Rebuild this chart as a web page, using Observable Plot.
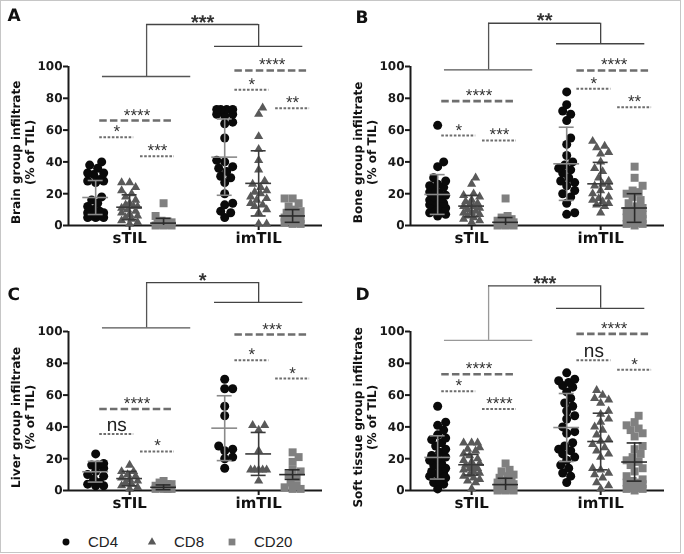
<!DOCTYPE html>
<html><head><meta charset="utf-8">
<script src="https://cdn.jsdelivr.net/npm/d3@7"></script>
<script src="https://cdn.jsdelivr.net/npm/@observablehq/plot@0.6"></script>
<style>
body{margin:0;background:#fff}
#fig{position:relative;width:684px;height:554px;overflow:hidden;background:#fff}
#frame{position:absolute;left:0;top:0;width:681px;height:553px;box-sizing:border-box;border:1.5px solid #c6c6c6}
.panel{position:absolute;will-change:transform}
.panel svg{overflow:visible}
.panel text{text-rendering:geometricPrecision}
</style></head>
<body><div id="fig"><div id="frame"></div></div>
<script>
// ---------- categories / series ----------
const categories = ["sTIL", "imTIL"];
const series = ["CD4", "CD8", "CD20"];
const panelLetters = ["A", "B", "C", "D"];
const yLabels = [
  "Brain group infiltrate\n(% of TIL)",
  "Bone group infiltrate\n(% of TIL)",
  "Liver group infiltrate\n(% of TIL)",
  "Soft tissue group infiltrate\n(% of TIL)"
];
const yTicks = [0, 20, 40, 60, 80, 100];

// ---------- A: Brain ----------
const brain_sTIL_CD4 = [40, 38, 36, 33, 33, 32, 29, 28, 28, 27, 18, 16, 14, 12, 10, 9, 8, 8, 7, 6, 6, 5, 5, 5];
const brain_sTIL_CD8 = [27, 27, 24, 22, 20, 18, 16, 14, 13, 12, 12, 11, 10, 9, 8, 7, 6, 5, 4, 3, 2, 1];
const brain_sTIL_CD20 = [14, 6, 3, 2.5, 2, 1.5, 1.5, 1, 1, 0.5, 0.5, 0.5, 0, 0, 0];
const brain_imTIL_CD4 = [73, 73, 73, 73, 70, 70, 69, 65, 64, 55, 41, 40, 37, 36, 34, 31, 30, 27, 20, 14, 13, 9, 8, 5];
const brain_imTIL_CD8 = [74, 70, 56, 48, 41, 35, 28, 26, 24, 22, 21, 20, 18, 17, 16, 14, 13, 12, 10, 8, 1, 1];
const brain_imTIL_CD20 = [17, 17, 14, 12, 10, 9, 8, 7, 6, 5, 5, 5, 4, 4, 3, 3, 2, 2, 1, 1];
const brainMean = [17.6, 11.5, 1.5, 43, 26.5, 6];
const brainSD = [10.7, 7.8, 3, 24, 20.5, 4];
const brainSig = [
  ["sTIL", "CD4", "CD20", 66, "****"], ["sTIL", "CD4", "CD8", 55.5, "*"], ["sTIL", "CD8", "CD20", 43.6, "***"],
  ["imTIL", "CD4", "CD20", 97.5, "****"], ["imTIL", "CD4", "CD8", 85.3, "*"], ["imTIL", "CD8", "CD20", 73.8, "**"]
];
const brainBracket = [93.7, 112.6, 126.4, "***"];

// ---------- B: Bone ----------
const bone_sTIL_CD4 = [63, 40, 37, 30, 28, 26, 25, 24, 22, 21, 20, 19, 18, 17, 16, 15, 14, 13, 12, 11, 10, 9, 8, 7, 6];
const bone_sTIL_CD8 = [30, 26, 20, 19, 18, 16, 15, 14, 13, 12, 12, 11, 10, 9, 8, 8, 7, 6, 5, 4, 3, 2];
const bone_sTIL_CD20 = [17, 6, 5, 4, 3.5, 3, 2.5, 2, 2, 1.5, 1.5, 1, 1, 0.5, 0.5, 0.5, 0, 0, 0];
const bone_imTIL_CD4 = [84, 76, 72, 70, 66, 55, 51, 44, 40, 38, 36, 35, 33, 30, 28, 27, 25, 22, 20, 18, 14, 8, 7];
const bone_imTIL_CD8 = [53, 50, 49, 46, 45, 40, 36, 34, 30, 28, 26, 25, 24, 22, 20, 18, 17, 16, 15, 14, 13, 12, 8];
const bone_imTIL_CD20 = [37, 30, 25, 22, 21, 20, 18, 16, 14, 12, 11, 10, 9, 8, 7, 6, 5, 5, 4, 3, 2, 2, 1, 1, 0];
const boneMean = [19.5, 12.2, 2, 38.8, 26.2, 11];
const boneSD = [12.5, 6.7, 3, 23, 13.5, 9];
const boneSig = [
  ["sTIL", "CD4", "CD20", 78.2, "****"], ["sTIL", "CD4", "CD8", 56.6, "*"], ["sTIL", "CD8", "CD20", 53.5, "***"],
  ["imTIL", "CD4", "CD20", 97.5, "****"], ["imTIL", "CD4", "CD8", 86, "*"], ["imTIL", "CD8", "CD20", 74.4, "**"]
];
const boneBracket = [97.9, 114.3, 127.2, "**"];

// ---------- C: Liver ----------
const liver_sTIL_CD4 = [23, 17, 16, 16, 14, 12, 10, 9, 7, 5, 4, 3, 3];
const liver_sTIL_CD8 = [16, 12, 12, 10, 9, 8, 7, 6, 5, 4, 3, 2, 1];
const liver_sTIL_CD20 = [6, 5, 4, 4, 3, 3, 2, 2, 2, 1, 1, 1, 1];
const liver_imTIL_CD4 = [70, 64, 64, 53, 47, 28, 26, 25, 21, 20, 14];
const liver_imTIL_CD8 = [41, 41, 38, 25, 13, 13, 13, 13, 13, 6];
const liver_imTIL_CD20 = [24, 21, 18, 13, 12, 10, 8, 5, 3, 2, 1, 1];
const liverMean = [11.8, 7.5, 2, 39.2, 23, 10];
const liverSD = [6.5, 4.5, 1.5, 20.4, 13.5, 3];
const liverSig = [
  ["sTIL", "CD4", "CD20", 51.25, "****"], ["sTIL", "CD4", "CD8", 35.6, "ns"], ["sTIL", "CD8", "CD20", 24.6, "*"],
  ["imTIL", "CD4", "CD20", 98.1, "***"], ["imTIL", "CD4", "CD8", 81.9, "*"], ["imTIL", "CD8", "CD20", 70.4, "*"]
];
const liverBracket = [102.3, 118.3, 130.8, "*"];

// ---------- D: Soft tissue ----------
const soft_sTIL_CD4 = [53, 43, 41, 38, 35, 33, 32, 30, 28, 26, 24, 22, 21, 20, 19, 17, 16, 14, 13, 12, 11, 10, 9, 8, 6, 5, 4, 1];
const soft_sTIL_CD8 = [30, 30, 30, 27, 26, 25, 23, 22, 20, 19, 18, 17, 16, 15, 14, 14, 13, 12, 11, 10, 9, 8, 7, 6, 5, 1];
const soft_sTIL_CD20 = [17, 13, 12, 10, 9, 8, 7, 6, 5, 4, 3.5, 3, 2.5, 2, 1.5, 1, 1, 0.5, 0.5, 0, 0, 0];
const soft_imTIL_CD4 = [74, 70, 69, 68, 66, 65, 62, 58, 55, 53, 50, 47, 45, 40, 37, 36, 30, 28, 26, 25, 23, 21, 19, 16, 14, 11, 9, 5];
const soft_imTIL_CD8 = [63, 60, 58, 57, 55, 50, 48, 45, 43, 40, 38, 35, 32, 31, 29, 27, 25, 23, 21, 14, 13, 11, 10, 8, 5, 3, 1];
const soft_imTIL_CD20 = [47, 43, 41, 39, 38, 36, 34, 28, 26, 23, 21, 19, 18, 16, 14, 12, 9, 7, 6, 5, 5, 4, 3, 2, 2, 1, 1, 0];
const softMean = [20.8, 16.2, 3.7, 39.6, 30.8, 17.9];
const softSD = [13.6, 6.5, 4, 21.4, 17.8, 12];
const softSig = [
  ["sTIL", "CD4", "CD20", 73.1, "****"], ["sTIL", "CD4", "CD8", 62.5, "*"], ["sTIL", "CD8", "CD20", 51.25, "****"],
  ["imTIL", "CD4", "CD20", 98.5, "****"], ["imTIL", "CD4", "CD8", 81.9, "ns"], ["imTIL", "CD8", "CD20", 76, "*"]
];
const softBracket = [94.4, 114.6, 128.75, "***"];

// ---------- styles ----------
const pointColor = ["#0a0a0a", "#595959", "#808080"];
const pointSymbol = ["circle", "triangle", "square"];
const pointR = [4.5, 3.4, 4.5];
const barColor = ["#8a8a8a", "#3a3a3a", "#2a2a2a"];
const starFont = "Liberation Sans, Arial, sans-serif";

const panelDefs = [
  {values: [brain_sTIL_CD4, brain_sTIL_CD8, brain_sTIL_CD20, brain_imTIL_CD4, brain_imTIL_CD8, brain_imTIL_CD20], mean: brainMean, sd: brainSD, sig: brainSig, bracket: brainBracket, left: 0, top: 0, ldx: -61, ldy: -58, leftColor: "#555"},
  {values: [bone_sTIL_CD4, bone_sTIL_CD8, bone_sTIL_CD20, bone_imTIL_CD4, bone_imTIL_CD8, bone_imTIL_CD20], mean: boneMean, sd: boneSD, sig: boneSig, bracket: boneBracket, left: 342, top: 0, ldx: -55, ldy: -56, leftColor: "#555"},
  {values: [liver_sTIL_CD4, liver_sTIL_CD8, liver_sTIL_CD20, liver_imTIL_CD4, liver_imTIL_CD8, liver_imTIL_CD20], mean: liverMean, sd: liverSD, sig: liverSig, bracket: liverBracket, left: 0, top: 265, ldx: -61, ldy: -44, leftColor: "#555"},
  {values: [soft_sTIL_CD4, soft_sTIL_CD8, soft_sTIL_CD20, soft_imTIL_CD4, soft_imTIL_CD8, soft_imTIL_CD20], mean: softMean, sd: softSD, sig: softSig, bracket: softBracket, left: 342, top: 265, ldx: -55, ldy: -44, leftColor: "#999"}
];

const W = 342, H = 260, ML = 68, MR = 20, MT = 66, MB = 35;
const X0 = -0.8, X1 = 6.68;
const catOffset = {sTIL: 0, imTIL: 3.8};
const pos = (c, s) => catOffset[c] + series.indexOf(s);
const unit = (W - ML - MR) / (X1 - X0);
const ky = (H - MT - MB) / 100;

// compact scatter-dot spread: offsets capped, overlap allowed when crowded
function swarm(vals, center, d, cap) {
  const placed = [], out = [];
  const step = 2;
  const sorted = vals.slice().sort((a, b) => a - b);
  const cands = [0];
  for (let k = step; k <= cap; k += step) cands.push(k, -k);
  for (const v of sorted) {
    const py = v * ky;
    let best = 0, bestScore = -1;
    for (const c of cands) {
      const m = placed.length ? Math.min(...placed.map(q => Math.hypot(q.px - c, q.py - py))) : Infinity;
      if (m >= d) { best = c; bestScore = Infinity; break; }
      if (m > bestScore) { bestScore = m; best = c; }
    }
    placed.push({px: best, py});
    out.push({v, x: center + best / unit});
  }
  return out;
}

panelDefs.forEach((p, pi) => {
  const marks = [];
  // axes lines
  marks.push(Plot.ruleY([0], {x1: X0, x2: X1, stroke: "#1a1a1a", strokeWidth: 2}));
  marks.push(Plot.ruleX([X0], {y1: 0, y2: 100, stroke: "#1a1a1a", strokeWidth: 2}));
  marks.push(Plot.axisY({ticks: yTicks, tickSize: 5, tickPadding: 1, label: null, color: "#1a1a1a", strokeWidth: 2}));
  marks.push(Plot.ruleX(categories, {x: c => pos(c, "CD8"), y1: 0, y2: -5 / ky, stroke: "#1a1a1a", strokeWidth: 2}));
  marks.push(Plot.text(categories, {x: c => pos(c, "CD8"), y: 0, dy: 7, text: d => d, lineAnchor: "top", fontSize: 15, fontWeight: "bold", fill: "#111"}));
  // y label
  marks.push(Plot.text([yLabels[pi]], {x: X0, y: 46, dx: -46, text: d => d, rotate: -90, lineAnchor: "middle", textAnchor: "middle", fontSize: 12, fontWeight: "bold", lineHeight: 1.2, fill: "#111"}));
  // panel letter
  marks.push(Plot.text([panelLetters[pi]], {frameAnchor: "top-left", dx: p.ldx, dy: p.ldy, text: d => d, lineAnchor: "top", textAnchor: "start", fontSize: 17, fontWeight: "bold", fill: "#111"}));

  // points
  series.forEach((s, si) => {
    const pts = [];
    categories.forEach((c, ci) => {
      swarm(p.values[ci * 3 + si], pos(c, s), si === 1 ? 7 : 7.5, 8).forEach(d => pts.push(d));
    });
    marks.push(Plot.dot(pts, {x: "x", y: "v", r: pointR[si], symbol: pointSymbol[si], fill: pointColor[si], stroke: "none"}));
  });
  // mean ± SD
  series.forEach((s, si) => {
    const rows = categories.map((c, ci) => ({x: pos(c, s), mean: p.mean[ci * 3 + si], sd: p.sd[ci * 3 + si]}));
    const st = {stroke: barColor[si], strokeWidth: 1.6};
    marks.push(Plot.ruleY(rows, {y: "mean", x1: d => d.x - 0.38, x2: d => d.x + 0.38, ...st}));
    marks.push(Plot.ruleX(rows, {x: "x", y1: d => Math.max(0, d.mean - d.sd), y2: d => d.mean + d.sd, ...st}));
    marks.push(Plot.ruleY(rows, {y: d => d.mean + d.sd, x1: d => d.x - 0.22, x2: d => d.x + 0.22, ...st}));
    marks.push(Plot.ruleY(rows.filter(d => d.mean - d.sd > 0), {y: d => d.mean - d.sd, x1: d => d.x - 0.22, x2: d => d.x + 0.22, ...st}));
  });

  // significance lines
  const sigRows = p.sig.map(([c, a, b, level, label]) => {
    const gap = series.indexOf(b) - series.indexOf(a);
    const start = pos(c, a) + (c === "sTIL" ? 0.12 : 0.3) + (a === "CD8" ? 0.2 : 0);
    const len = gap === 2 ? 2.2 : 1.0;
    return {level, label, x1: start, x2: start + len, long: gap === 2};
  });
  marks.push(Plot.ruleY(sigRows.filter(d => d.long), {y: "level", x1: "x1", x2: "x2", stroke: "#6e6e6e", strokeWidth: 2.6, strokeDasharray: "7.5,3.2"}));
  marks.push(Plot.ruleY(sigRows.filter(d => !d.long), {y: "level", x1: "x1", x2: "x2", stroke: "#6e6e6e", strokeWidth: 2, strokeDasharray: "2.6,1.6"}));
  marks.push(Plot.text(sigRows.filter(d => d.label !== "ns"), {x: d => (d.x1 + d.x2) / 2, y: "level", text: "label", lineAnchor: "bottom", dy: 0, fontSize: 17, fontWeight: "normal", fontFamily: starFont, fill: "#333"}));
  marks.push(Plot.text(sigRows.filter(d => d.label === "ns"), {x: d => (d.x1 + d.x2) / 2, y: "level", text: "label", lineAnchor: "bottom", dy: -3, fontSize: 19, fontWeight: "normal", fontFamily: starFont, fill: "#222"}));

  // top bracket
  const [low, high, top, blabel] = p.bracket;
  const cL = pos("sTIL", "CD8") + 0.5, cR = pos("imTIL", "CD8"), hw = 1.3;
  marks.push(Plot.ruleY([{x1: cL - hw, x2: cL + hw, y: low}], {x1: "x1", x2: "x2", y: "y", stroke: p.leftColor, strokeWidth: 1.3}));
  marks.push(Plot.ruleX([{x: cL, y1: low, y2: top}], {x: "x", y1: "y1", y2: "y2", stroke: p.leftColor, strokeWidth: 1.3}));
  marks.push(Plot.ruleY([{x1: cR - hw, x2: cR + hw, y: high}, {x1: cL, x2: cR, y: top}], {x1: "x1", x2: "x2", y: "y", stroke: "#444", strokeWidth: 1.3}));
  marks.push(Plot.ruleX([{x: cR, y1: high, y2: top}], {x: "x", y1: "y1", y2: "y2", stroke: "#444", strokeWidth: 1.3}));
  marks.push(Plot.text([blabel], {x: (cL + cR) / 2, y: top, text: d => d, lineAnchor: "bottom", dy: 4, fontSize: 20, fontWeight: "bold", fontFamily: starFont, fill: "#333"}));

  const chart = Plot.plot({
    width: W, height: H,
    marginLeft: ML, marginRight: MR, marginTop: MT, marginBottom: MB,
    x: {domain: [X0, X1], axis: null},
    y: {domain: [0, 100]},
    style: {fontFamily: "DejaVu Sans, sans-serif", fontSize: "12px", fontWeight: "bold", background: "transparent", overflow: "visible"},
    marks
  });
  const div = document.createElement("div");
  div.className = "panel";
  div.style.left = p.left + "px";
  div.style.top = p.top + "px";
  div.appendChild(chart);
  document.getElementById("fig").appendChild(div);
});

// ---------- legend ----------
const legendX = [66, 152, 232];
const lsvg = d3.select("#fig").append("svg")
  .attr("width", 684).attr("height", 24)
  .style("position", "absolute").style("left", "0px").style("top", "530px");
series.forEach((s, i) => {
  const g = lsvg.append("g").attr("transform", `translate(${legendX[i]},12)`);
  const sym = [d3.symbolCircle, d3.symbolTriangle, d3.symbolSquare][i];
  const size = [38, 30, 46][i];
  g.append("path").attr("d", d3.symbol(sym, size)()).attr("fill", pointColor[i]);
  g.append("text").attr("x", 22).attr("y", 0).attr("dy", "0.35em")
    .attr("font-family", "Liberation Sans, Arial, sans-serif").attr("font-size", 15).attr("fill", "#222").text(s);
});
</script>
</body></html>
